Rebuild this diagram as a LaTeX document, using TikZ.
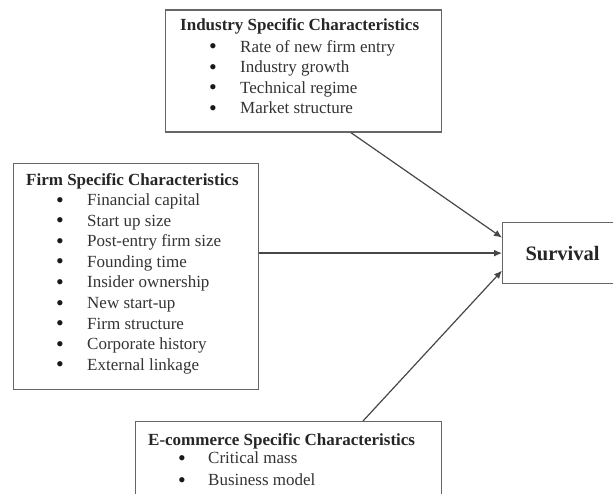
\documentclass[tikz,border=0pt]{standalone}
\usepackage{fontspec}
\setmainfont{Liberation Serif}
\usetikzlibrary{arrows.meta}
\begin{document}
\begin{tikzpicture}[x=1pt,y=-1pt,
  box/.style={draw=black!60, line width=1.2pt, rectangle, inner sep=0pt, anchor=north west},
  heading/.style={anchor=base west, inner sep=0pt, font=\bfseries\fontsize{17}{20}\selectfont, text=black!85},
  entry/.style={anchor=base west, inner sep=0pt, font=\fontsize{17}{20}\selectfont, text=black!80},
  bulletmark/.style={anchor=base, inner sep=0pt, font=\fontsize{22}{24}\selectfont, text=black!90},
  link/.style={draw=black!72, line width=1.2pt, -{Latex[length=8pt,width=7pt]}}]
  \useasboundingbox (0,0) rectangle (613,494);
  \clip (0,0) rectangle (613,494);

  % boxes
  \node[box, minimum width=276pt, minimum height=122pt] (ind) at (165,9.5) {};
  \node[box, minimum width=245pt, minimum height=226pt] (firm) at (13,163) {};
  \node[box, minimum width=120pt, minimum height=61pt,
        font=\bfseries\fontsize{20.5}{24}\selectfont, text=black!85] (surv) at (502,222) {Survival};
  \node[box, minimum width=306pt, minimum height=100pt] (eco) at (135,421) {};

  % industry characteristics
  \node[heading] (indt) at (180,30.5) {Industry Specific Characteristics};
  \foreach \t [count=\i] in {Rate of new firm entry, Industry growth, Technical regime, Market structure} {
    \node[bulletmark] (indb\i) at (213,33.5+20.5*\i) {\textbullet};
    \node[entry] (indi\i) at (240,32+20.5*\i) {\t};
  }

  % firm characteristics
  \node[heading] (firmt) at (26,185.5) {Firm Specific Characteristics};
  \foreach \t [count=\i] in {Financial capital, Start up size, Post-entry firm size, Founding time,
      Insider ownership, New start-up, Firm structure, Corporate history, External linkage} {
    \node[bulletmark] (firmb\i) at (60,186.5+20.6*\i) {\textbullet};
    \node[entry] (firmi\i) at (87,185+20.6*\i) {\t};
  }

  % e-commerce characteristics
  \node[heading] (ecot) at (148,445.5) {E-commerce Specific Characteristics};
  \foreach \t [count=\i] in {Critical mass, Business model} {
    \node[bulletmark] (ecob\i) at (182,443+22*\i) {\textbullet};
    \node[entry] (ecoi\i) at (208,441.5+22*\i) {\t};
  }

  % connectors
  \draw[link] ([xshift=186pt]ind.south west) -- ([yshift=15.5pt]surv.west);
  \draw[link] (surv.west -| firm.east) -- (surv.west);
  \draw[link] ([xshift=228pt]eco.north west) -- ([yshift=-17.5pt]surv.west);
\end{tikzpicture}
\end{document}
